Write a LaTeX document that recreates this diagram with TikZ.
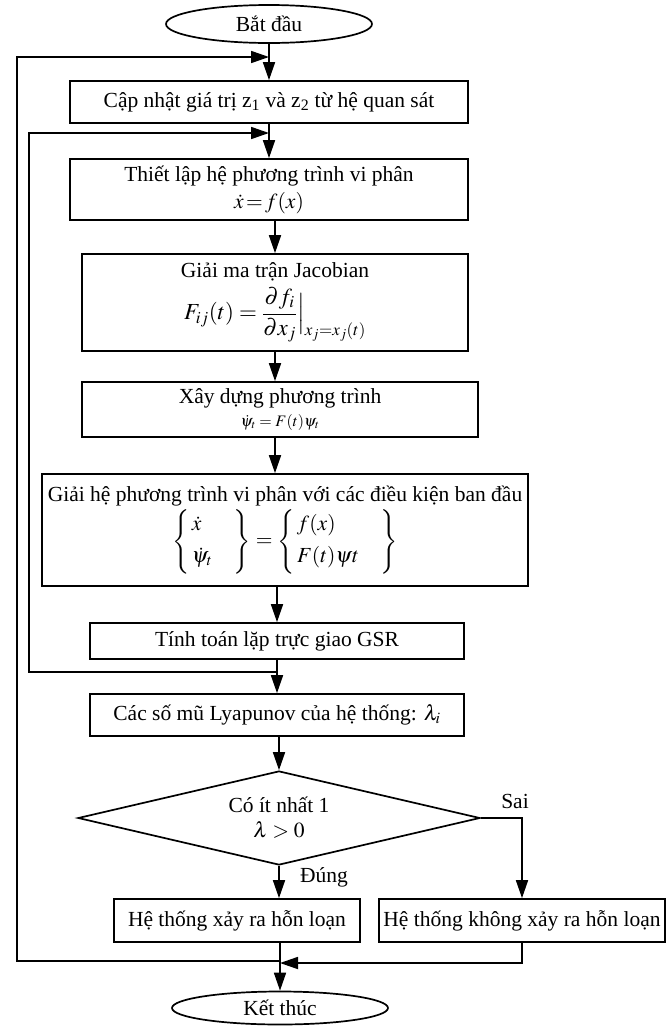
\documentclass[tikz,border=0pt]{standalone}
\usepackage{amsmath}
\usepackage{mathptmx}
\usepackage{fontspec}
\setmainfont{Liberation Serif}
\usetikzlibrary{shapes.geometric,arrows.meta}
\newcommand{\fsmain}{\fontsize{21.5}{25}\selectfont}
\newcommand{\fssmall}{\fontsize{16}{18}\selectfont}
\newcommand{\fsbig}{\fontsize{23}{27}\selectfont}
\begin{document}
\begin{tikzpicture}[x=1pt,y=-1pt,
  box/.style={draw, line width=1.7pt, inner sep=0pt, align=center, font=\fsmain},
  term/.style={ellipse, draw, line width=1.7pt, inner sep=0pt, font=\fsmain},
  dec/.style={diamond, aspect=4.28, draw, line width=1.7pt, inner sep=0pt, align=center, font=\fsmain},
  arr/.style={line width=1.7pt, -{Triangle[length=18pt,width=12pt]}},
  lbl/.style={font=\fsmain, inner sep=0pt}]
\useasboundingbox (0,0) rectangle (671,1026);

\node[term, minimum width=206pt, minimum height=38pt] (start) at (269,24) {Bắt đầu};
\node[box, minimum width=398pt, minimum height=42pt] (b1) at (269,102) {Cập nhật giá trị z\textsubscript{1} và z\textsubscript{2} từ hệ quan sát};
\node[box, minimum width=398pt, minimum height=61pt] (b2) at (269,189.5) {Thiết lập hệ phương trình vi phân\\[2pt] $\dot{x}\!=\!f(x)$};
\node[box, minimum width=386pt, minimum height=97pt] (b3) at (275,302.5) {Giải ma trận Jacobian\\[5pt] {\fsbig$\displaystyle F_{ij}(t)=\frac{\partial f_i}{\partial x_j}\Big|_{x_j=x_j(t)}$}};
\node[box, minimum width=396pt, minimum height=55pt] (b4) at (280,409.5) {Xây dựng phương trình\\[-2pt] {\fssmall$\dot{\psi}_t = F(t)\psi_t$}};
\node[box, minimum width=486pt, minimum height=112pt] (b5) at (285,530) {Giải hệ phương trình vi phân với các điều kiện ban đầu\\[2pt]
 $\left\{\begin{array}{@{\,}l@{\quad}}\dot{x}\\[7pt]\dot{\psi}_t\end{array}\right\}=\left\{\begin{array}{@{\,}l@{\quad}}f(x)\\[7pt]F(t)\psi t\end{array}\right\}$};
\node[box, minimum width=374pt, minimum height=36pt] (b6) at (277,641) {Tính toán lặp trực giao GSR};
\node[box, minimum width=374pt, minimum height=42pt] (b7) at (277,715) {Các số mũ Lyapunov của hệ thống: $\lambda_i$};
\node[dec, minimum width=402pt, minimum height=94pt] (dia) at (279,818) {Có ít nhất 1\\ $\lambda>0$};
\node[box, minimum width=246pt, minimum height=43pt] (b8) at (237,920.5) {Hệ thống xảy ra hỗn loạn};
\node[box, minimum width=286pt, minimum height=43pt] (b9) at (522,920.5) {Hệ thống không xảy ra hỗn loạn};
\node[term, minimum width=216pt, minimum height=33pt] (end) at (280,1008) {Kết thúc};

\node[lbl] (sai) at (515,801) {Sai};
\node[lbl, anchor=west] (dung) at (300,877) {Đúng};

% junction coordinates
\coordinate (oin) at (269,57);
\coordinate (iin) at (269,133);
\coordinate (ox) at (17,0);
\coordinate (ix) at (29,0);
\coordinate (ji) at (277,672);
\coordinate (jo) at (280,961);
\coordinate (jr) at (280,963);

\draw[arr] (start.south) -- (b1.north);
\draw[arr] (b1.south) -- (b2.north);
\draw[arr] (b3.north |- b2.south) -- (b3.north);
\draw[arr] (b3.south) -- (b3.south |- b4.north);
\draw[arr] (b3.south |- b4.south) -- (b3.south |- b5.north);
\draw[arr] (b6.north |- b5.south) -- (b6.north);
\draw[arr] (b6.south) -- (b7.north);
\draw[arr] (dia.north |- b7.south) -- (dia.north);
\draw[arr] (dia.south) -- (dia.south |- b8.north);
\draw[arr] (dia.east) -| (b9.north);
\draw[arr] (end.north |- b8.south) -- (end.north);
\draw[arr] (b9.south) |- (jr);
% inner loop
\draw[arr] (ji) -- (ji -| ix) -- (ix |- iin) -- (iin);
% outer loop
\draw[arr] (jo) -- (jo -| ox) -- (ox |- oin) -- (oin);
\end{tikzpicture}
\end{document}
